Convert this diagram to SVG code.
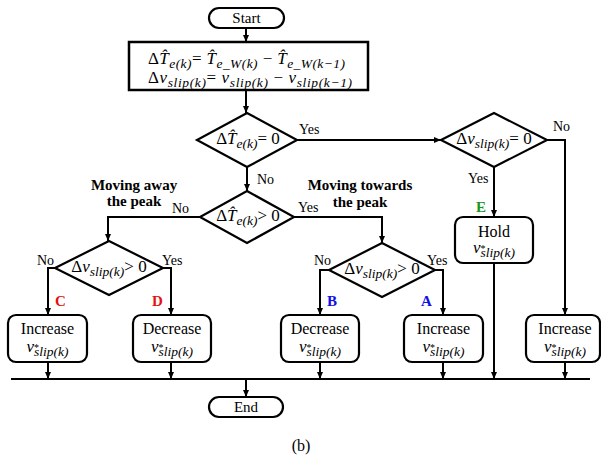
<svg xmlns="http://www.w3.org/2000/svg" width="601" height="461" viewBox="0 0 601 461">
<defs>
<marker id="ar" markerWidth="8" markerHeight="8" refX="7" refY="4" orient="auto" markerUnits="userSpaceOnUse">
<path d="M0,1 L7,4 L0,7 Z" fill="#000"/>
</marker>
<style>
.ln{stroke:#000;stroke-width:2;fill:none}
.sh{fill:#fff;stroke:#000;stroke-width:2.2}
.t{font-family:"Liberation Serif","Times New Roman",serif;fill:#000}
.n{font-size:16px}
.mt{font-size:17px}
.it{font-style:italic}
.sb{font-size:13.5px;font-style:italic}
.st{font-size:10px}
.lb{font-size:14px}
.hd{font-size:15px;font-weight:bold}
.ltr{font-size:15px;font-weight:bold}
</style>
</defs>
<rect width="601" height="461" fill="#fff"/>

<g id="connectors">
<line class="ln" x1="246" y1="28" x2="246" y2="42" marker-end="url(#ar)"/>
<line class="ln" x1="246" y1="90" x2="246" y2="113" marker-end="url(#ar)"/>
<line class="ln" x1="297" y1="140" x2="441" y2="140" marker-end="url(#ar)"/>
<polyline class="ln" points="547,140 565,140 565,315" marker-end="url(#ar)"/>
<line class="ln" x1="494" y1="167" x2="494" y2="217" marker-end="url(#ar)"/>
<line class="ln" x1="494" y1="263" x2="494" y2="379" marker-end="url(#ar)"/>
<line class="ln" x1="247" y1="167" x2="247" y2="191" marker-end="url(#ar)"/>
<polyline class="ln" points="294,217 382,217 382,243" marker-end="url(#ar)"/>
<polyline class="ln" points="200,217 108,217 108,241" marker-end="url(#ar)"/>
<polyline class="ln" points="329,270 320,270 320,315" marker-end="url(#ar)"/>
<polyline class="ln" points="435,270 443,270 443,315" marker-end="url(#ar)"/>
<polyline class="ln" points="55,268 48,268 48,315" marker-end="url(#ar)"/>
<polyline class="ln" points="163,268 171,268 171,315" marker-end="url(#ar)"/>
<line class="ln" x1="48" y1="362" x2="48" y2="379" marker-end="url(#ar)"/>
<line class="ln" x1="171" y1="362" x2="171" y2="379" marker-end="url(#ar)"/>
<line class="ln" x1="320" y1="362" x2="320" y2="379" marker-end="url(#ar)"/>
<line class="ln" x1="443" y1="362" x2="443" y2="379" marker-end="url(#ar)"/>
<line class="ln" x1="565" y1="362" x2="565" y2="379" marker-end="url(#ar)"/>
<line class="ln" x1="11" y1="379" x2="590" y2="379"/>
<line class="ln" x1="246" y1="379" x2="246" y2="397" marker-end="url(#ar)"/>
</g>

<g id="start">
<rect class="sh" x="209" y="8" width="75" height="20" rx="10"/>
<text class="t n" x="246.5" y="23" text-anchor="middle" style="font-size:15px">Start</text>
</g>

<g id="compute">
<rect class="sh" x="129" y="42" width="239" height="48" style="stroke-width:2.5"/>
<text class="t mt" x="148" y="64" textLength="197" lengthAdjust="spacing"><tspan>Δ</tspan><tspan class="it">T&#x302;</tspan><tspan class="sb" dy="4">e(k)</tspan><tspan dy="-4">= </tspan><tspan class="it">T&#x302;</tspan><tspan class="sb" dy="4">e_W(k)</tspan><tspan dy="-4"> − </tspan><tspan class="it">T&#x302;</tspan><tspan class="sb" dy="4">e_W(k−1)</tspan></text>
<text class="t mt" x="148" y="83" textLength="204" lengthAdjust="spacing"><tspan>Δ</tspan><tspan class="it">v</tspan><tspan class="sb" dy="4">slip(k)</tspan><tspan dy="-4">= </tspan><tspan class="it">v</tspan><tspan class="sb" dy="4">slip(k)</tspan><tspan dy="-4"> − </tspan><tspan class="it">v</tspan><tspan class="sb" dy="4">slip(k−1)</tspan></text>
</g>

<g id="dec1">
<polygon class="sh" points="247,113 297,140 247,167 197,140"/>
<text class="t mt" x="248" y="144" text-anchor="middle"><tspan>Δ</tspan><tspan class="it">T&#x302;</tspan><tspan class="sb" dy="4">e(k)</tspan><tspan dy="-4">= 0</tspan></text>
<text class="t lb" x="299" y="134">Yes</text>
<text class="t lb" x="257" y="184">No</text>
</g>

<g id="dec3">
<polygon class="sh" points="494,113 547,140 494,167 441,140"/>
<text class="t mt" x="494" y="144" text-anchor="middle"><tspan>Δ</tspan><tspan class="it">v</tspan><tspan class="sb" dy="4">slip(k)</tspan><tspan dy="-4">= 0</tspan></text>
<text class="t lb" x="553" y="131">No</text>
<text class="t lb" x="468" y="183">Yes</text>
<text class="t ltr" x="476" y="212" style="fill:#1a961a">E</text>
</g>

<g id="hold">
<rect class="sh" x="455" y="217" width="78" height="46" rx="8"/>
<text class="t n" x="494" y="237" text-anchor="middle">Hold</text>
<text class="t mt" x="494" y="253" text-anchor="middle"><tspan class="it">v</tspan><tspan class="st" dy="-1">*</tspan><tspan class="sb" dx="-5" dy="5">slip(k)</tspan></text>
</g>

<g id="dec2">
<polygon class="sh" points="247,191 294,217 247,243 200,217"/>
<text class="t mt" x="248" y="221" text-anchor="middle"><tspan>Δ</tspan><tspan class="it">T&#x302;</tspan><tspan class="sb" dy="4">e(k)</tspan><tspan dy="-4">&gt; 0</tspan></text>
<text class="t lb" x="298" y="212">Yes</text>
<text class="t lb" x="172" y="213">No</text>
<text class="t hd" x="134" y="190" text-anchor="middle">Moving away</text>
<text class="t hd" x="134" y="206" text-anchor="middle">the peak</text>
<text class="t hd" x="360" y="190" text-anchor="middle">Moving towards</text>
<text class="t hd" x="360" y="207" text-anchor="middle">the peak</text>
</g>

<g id="dec4">
<polygon class="sh" points="382,243 435,270 382,297 329,270"/>
<text class="t mt" x="382" y="274" text-anchor="middle"><tspan>Δ</tspan><tspan class="it">v</tspan><tspan class="sb" dy="4">slip(k)</tspan><tspan dy="-4">&gt; 0</tspan></text>
<text class="t lb" x="314" y="265">No</text>
<text class="t lb" x="427" y="265">Yes</text>
<text class="t ltr" x="327" y="306" style="fill:#1010e6">B</text>
<text class="t ltr" x="421" y="306" style="fill:#1010e6">A</text>
</g>

<g id="dec5">
<polygon class="sh" points="109,241 163,268 109,295 55,268"/>
<text class="t mt" x="109" y="272" text-anchor="middle"><tspan>Δ</tspan><tspan class="it">v</tspan><tspan class="sb" dy="4">slip(k)</tspan><tspan dy="-4">&gt; 0</tspan></text>
<text class="t lb" x="37" y="265">No</text>
<text class="t lb" x="162" y="265">Yes</text>
<text class="t ltr" x="55" y="306" style="fill:#e61010">C</text>
<text class="t ltr" x="152" y="306" style="fill:#e61010">D</text>
</g>

<g id="boxC">
<rect class="sh" x="8" y="315" width="79" height="47" rx="8"/>
<text class="t n" x="47.5" y="334" text-anchor="middle">Increase</text>
<text class="t mt" x="47.5" y="352" text-anchor="middle"><tspan class="it">v</tspan><tspan class="st" dy="-1">*</tspan><tspan class="sb" dx="-5" dy="5">slip(k)</tspan></text>
</g>
<g id="boxD">
<rect class="sh" x="133" y="315" width="78" height="47" rx="8"/>
<text class="t n" x="172" y="334" text-anchor="middle">Decrease</text>
<text class="t mt" x="172" y="352" text-anchor="middle"><tspan class="it">v</tspan><tspan class="st" dy="-1">*</tspan><tspan class="sb" dx="-5" dy="5">slip(k)</tspan></text>
</g>
<g id="boxB">
<rect class="sh" x="281" y="315" width="78" height="47" rx="8"/>
<text class="t n" x="320" y="334" text-anchor="middle">Decrease</text>
<text class="t mt" x="320" y="352" text-anchor="middle"><tspan class="it">v</tspan><tspan class="st" dy="-1">*</tspan><tspan class="sb" dx="-5" dy="5">slip(k)</tspan></text>
</g>
<g id="boxA">
<rect class="sh" x="404" y="315" width="79" height="47" rx="8"/>
<text class="t n" x="443.5" y="334" text-anchor="middle">Increase</text>
<text class="t mt" x="443.5" y="352" text-anchor="middle"><tspan class="it">v</tspan><tspan class="st" dy="-1">*</tspan><tspan class="sb" dx="-5" dy="5">slip(k)</tspan></text>
</g>
<g id="boxR">
<rect class="sh" x="526" y="315" width="74" height="47" rx="8"/>
<text class="t n" x="565" y="334" text-anchor="middle">Increase</text>
<text class="t mt" x="565" y="352" text-anchor="middle"><tspan class="it">v</tspan><tspan class="st" dy="-1">*</tspan><tspan class="sb" dx="-5" dy="5">slip(k)</tspan></text>
</g>

<g id="end">
<rect class="sh" x="209" y="397" width="74" height="20" rx="10"/>
<text class="t n" x="246" y="412" text-anchor="middle" style="font-size:15px">End</text>
</g>

<text class="t n" x="301" y="451" text-anchor="middle">(b)</text>
</svg>
